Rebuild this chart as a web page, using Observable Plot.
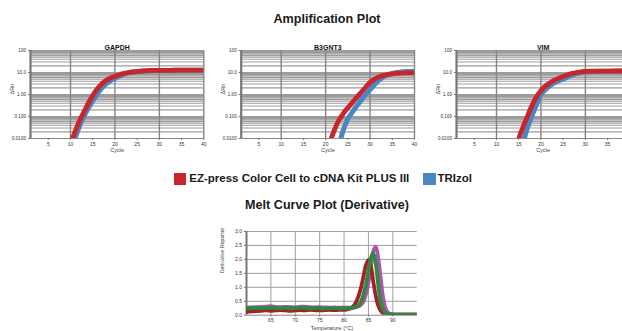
<!DOCTYPE html>
<html><head><meta charset="utf-8">
<script src="https://cdn.jsdelivr.net/npm/d3@7"></script>
<script src="https://cdn.jsdelivr.net/npm/@observablehq/plot@0.6"></script>
<style>
body{margin:0;background:#fff;}
#root{position:relative;width:622px;height:331px;overflow:hidden;background:#fff;font-family:"Liberation Sans",Arial,sans-serif;}
.abs{position:absolute;}
.title{font-weight:bold;font-size:12.6px;color:#1a1a1a;white-space:nowrap;transform:translate(-50%,-50%);}
.leg{font-weight:bold;font-size:11.5px;color:#1a1a1a;white-space:nowrap;transform:translateY(-50%);}
.sw{width:12px;height:12px;}
</style></head><body><div id="root"></div>
<script>
// ---------- data ----------
const cycles = d3.range(1, 41);
const seriesNames = ["EZ-press Color Cell to cDNA Kit PLUS III", "TRIzol"];
const seriesColors = ["#c9262c", "#4a86c1"];
const genes = ["GAPDH", "B3GNT3", "VIM"];
const N = null;
const gapdhEz = [N,N,N,N,N,N,N,N,N,0.0056,0.020,0.063,0.158,0.40,0.89,1.78,3.02,4.37,5.62,6.76,7.94,9.12,10.0,10.7,11.2,11.7,12.0,12.3,12.4,12.5,12.5,12.6,12.6,12.7,12.7,12.8,12.8,12.8,12.9,12.9];
const gapdhTri = [N,N,N,N,N,N,N,N,N,0.0025,0.010,0.035,0.10,0.24,0.50,1.05,1.91,3.02,4.17,5.37,6.76,8.32,9.55,10.5,11.0,11.5,11.8,12.0,12.2,12.3,12.4,12.4,12.5,12.5,12.6,12.6,12.6,12.7,12.7,12.7];
const b3gnt3Ez = [N,N,N,N,N,N,N,N,N,N,N,N,N,N,N,N,N,N,N,N,0.0071,0.025,0.068,0.14,0.25,0.43,0.74,1.26,2.14,3.55,5.01,6.31,7.41,8.13,8.71,9.12,9.33,9.55,9.6,9.77];
const b3gnt3Tri = [N,N,N,N,N,N,N,N,N,N,N,N,N,N,N,N,N,N,N,N,N,N,0.005,0.025,0.079,0.158,0.30,0.55,1.0,1.66,2.82,4.47,6.31,7.94,9.12,10.0,10.5,11.0,11.2,11.5];
const vimEz = [N,N,N,N,N,N,N,N,N,N,N,N,N,0.0032,0.010,0.035,0.107,0.32,0.79,1.51,2.40,3.31,4.47,5.50,6.61,7.94,9.12,10.0,10.7,11.2,11.4,11.5,11.5,11.6,11.6,11.7,11.7,11.7,11.7,11.8];
const vimTri = [N,N,N,N,N,N,N,N,N,N,N,N,N,N,0.0025,0.0071,0.032,0.11,0.35,1.0,1.66,2.51,3.39,4.27,5.01,6.31,7.59,8.91,10.0,10.7,11.0,11.2,11.3,11.4,11.4,11.5,11.5,11.6,11.6,11.6];
const cycleTicks = [5,10,15,20,25,30,35,40];
const cycleTicksVisible = [5,10,15,20,25,30,35];
const cycleGrid = [10,20,30,40];
const rnTicks = [0.01,0.1,1,10,100];
const rnTickLabels = ["0.0100","0.100","1.00","10.0","100"];

const temps = [60,61,62,63,64,65,66,67,68,69,70,71,72,73,74,75,76,77,78,79,80,80.5,81,81.5,82,82.5,83,83.5,84,84.5,85,85.5,86,86.5,87,87.5,88,88.5,89,89.5,90,91,92,93,94,95];
const meltRed    = [0.12,0.14,0.15,0.16,0.17,0.16,0.17,0.18,0.17,0.16,0.17,0.18,0.17,0.19,0.18,0.17,0.18,0.19,0.18,0.19,0.19,0.20,0.22,0.26,0.34,0.48,0.70,1.00,1.40,1.80,1.97,1.75,1.20,0.70,0.35,0.16,0.07,0.04,0.03,0.02,0.02,0.02,0.02,0.02,0.02,0.02];
const meltGreen  = [0.24,0.25,0.25,0.26,0.25,0.27,0.26,0.25,0.26,0.25,0.26,0.27,0.26,0.25,0.26,0.25,0.24,0.25,0.25,0.24,0.25,0.25,0.25,0.26,0.27,0.30,0.36,0.50,0.75,1.10,1.60,2.05,2.22,1.85,1.10,0.50,0.20,0.08,0.04,0.03,0.02,0.02,0.02,0.02,0.02,0.02];
const meltPurple = [0.27,0.28,0.29,0.30,0.31,0.32,0.30,0.29,0.30,0.29,0.28,0.30,0.31,0.29,0.28,0.29,0.28,0.27,0.28,0.27,0.27,0.27,0.27,0.27,0.28,0.29,0.32,0.38,0.50,0.75,1.15,1.70,2.30,2.46,2.05,1.35,0.65,0.25,0.09,0.04,0.03,0.02,0.02,0.02,0.02,0.02];
const meltColors = ["#a55aa8", "#a32322", "#2e8743"];
const tempTicks = [65,70,75,80,85,90];
const derivTicks = [0,0.5,1.0,1.5,2.0,2.5,3.0];

// ---------- layout ----------
const root = document.getElementById("root");
function addDiv(cls, html, left, top, extra) {
  const d = document.createElement("div");
  d.className = "abs " + cls;
  d.innerHTML = html;
  d.style.left = left + "px"; d.style.top = top + "px";
  if (extra) Object.assign(d.style, extra);
  root.appendChild(d);
  return d;
}
addDiv("title", "Amplification Plot", 327, 19);
addDiv("title", "Melt Curve Plot (Derivative)", 327, 204.5);
addDiv("sw", "", 173.5, 172.5, {background: seriesColors[0]});
addDiv("leg", seriesNames[0], 189.3, 178.3);
addDiv("sw", "", 423, 172.5, {background: seriesColors[1], width: "13px"});
addDiv("leg", seriesNames[1], 437.5, 178.3);

// minor log grid
const minorGrid = [];
for (let k = -2; k <= 1; k++) for (let m = 1; m <= 9; m++) minorGrid.push(+(m * Math.pow(10, k)).toPrecision(3));
minorGrid.push(100);

function ampPanel(title, ez, tri, left, marginLeft, xTicks) {
  const rows = cycles.map((c, i) => ({c, ez: ez[i], tri: tri[i]}));
  const plotW = 173.3;
  const svg = Plot.plot({
    width: 215, height: 118,
    marginLeft, marginRight: 215 - marginLeft - plotW, marginTop: 12, marginBottom: 18,
    x: {domain: [1, 40]},
    y: {type: "log", domain: [0.01, 100]},
    style: {fontFamily: '"Liberation Sans", Arial, sans-serif', fontSize: "5px", background: "transparent", color: "#333"},
    marks: [
      Plot.ruleY(minorGrid, {stroke: "#9c9c9c", strokeWidth: 1.15}),
      Plot.ruleX(cycleGrid, {stroke: "#858585", strokeWidth: 1.4}),
      Plot.ruleY([0.01], {stroke: "#888", strokeWidth: 1}),
      Plot.ruleX([1], {stroke: "#777", strokeWidth: 2.2}),
      Plot.axisX({ticks: xTicks, tickSize: 2, tickPadding: 1.5, fontSize: 5, label: null, stroke: "#777"}),
      Plot.axisY({ticks: rnTicks, tickFormat: d => rnTickLabels[rnTicks.indexOf(d)], tickSize: 2, tickPadding: 2.5, fontSize: 4.6, label: null, stroke: "#777"}),
      Plot.lineY(rows, {x: "c", y: "tri", stroke: seriesColors[1], strokeWidth: 5, curve: "monotone-x", clip: true}),
      Plot.lineY(rows, {x: "c", y: "ez", stroke: seriesColors[0], strokeWidth: 4.8, curve: "monotone-x", clip: true}),
      Plot.text([title], {text: d => d, frameAnchor: "top", dy: -5.7, fontWeight: "bold", fontSize: 7, fill: "#111"}),
      Plot.text(["Cycle"], {text: d => d, frameAnchor: "bottom", dy: 13.7, fontSize: 5.5, fill: "#444"}),
      Plot.text(["ΔRn"], {text: d => d, frameAnchor: "left", dx: -18, rotate: -90, fontSize: 5.5, fill: "#444"})
    ]
  });
  svg.style.position = "absolute";
  svg.style.left = left + "px";
  svg.style.top = "38px";
  svg.style.overflow = "visible";
  root.appendChild(svg);
}
ampPanel(genes[0], gapdhEz, gapdhTri, 0, 30, cycleTicks);
ampPanel(genes[1], b3gnt3Ez, b3gnt3Tri, 210, 30.7, cycleTicks);
ampPanel(genes[2], vimEz, vimTri, 426, 30, cycleTicksVisible);

// melt curve
const meltRows = [];
[meltPurple, meltRed, meltGreen].forEach((arr, s) => temps.forEach((t, i) => meltRows.push({t, v: arr[i], s})));
const melt = Plot.plot({
  width: 230, height: 118,
  marginLeft: 46, marginRight: 230 - 46 - 170.7, marginTop: 9, marginBottom: 118 - 9 - 83.7,
  x: {domain: [60, 95]},
  y: {domain: [0, 3]},
  style: {fontFamily: '"Liberation Sans", Arial, sans-serif', fontSize: "5px", background: "transparent", color: "#333"},
  marks: [
    Plot.ruleX(tempTicks, {stroke: "#a0a0a0", strokeWidth: 1}),
    Plot.ruleY(derivTicks.slice(1), {stroke: "#a0a0a0", strokeWidth: 1}),
    Plot.ruleY([0], {stroke: "#888", strokeWidth: 1}),
    Plot.ruleX([60], {stroke: "#777", strokeWidth: 2}),
    Plot.axisX({ticks: tempTicks, tickSize: 2, tickPadding: 1.5, fontSize: 5, label: null, stroke: "#777"}),
    Plot.axisY({ticks: derivTicks, tickFormat: d3.format(".1f"), tickSize: 2, tickPadding: 2.5, fontSize: 5, label: null, stroke: "#777"}),
    Plot.line(meltRows, {x: "t", y: "v", z: "s", stroke: d => meltColors[d.s], strokeWidth: 3.8, curve: "catmull-rom", clip: true}),
    Plot.text(["Derivative Reporter"], {text: d => d, frameAnchor: "left", dx: -24, rotate: -90, fontSize: 5.3, fill: "#444"}),
    Plot.text(["Temperature (°C)"], {text: d => d, frameAnchor: "bottom", dy: 15, fontSize: 5.5, fill: "#444"})
  ]
});
melt.style.position = "absolute";
melt.style.left = "200px";
melt.style.top = "222px";
melt.style.overflow = "visible";
root.appendChild(melt);
</script></body></html>
